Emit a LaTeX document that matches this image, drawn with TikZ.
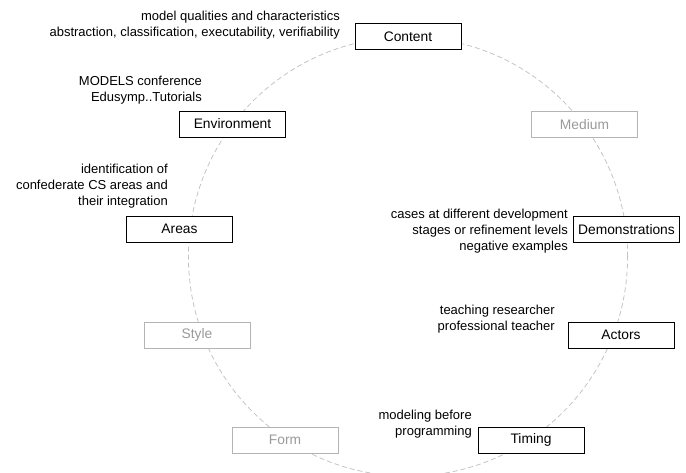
\documentclass[tikz,border=0pt]{standalone}
\usepackage{fontspec}
\setmainfont{Liberation Sans}
\definecolor{circgray}{HTML}{C4C4C4}
\definecolor{boxgray}{HTML}{B4B4B4}
\definecolor{txtgray}{HTML}{9A9A9A}
\begin{document}
\begin{tikzpicture}[x=1pt,y=-1pt,
  box/.style={draw=black, fill=white, line width=0.9pt, minimum width=106pt, minimum height=26pt, inner sep=0pt, font=\fontsize{13.8}{16}\selectfont},
  graybox/.style={box, draw=boxgray, text=txtgray},
  note/.style={align=right, anchor=east, inner sep=0pt, font=\fontsize{13}{16}\selectfont},
  ring/.style={draw=circgray, line width=0.8pt, dash pattern=on 5pt off 3pt}]
\useasboundingbox (0,0) rectangle (686,472);
\clip (0,0) rectangle (686,472);
\draw[ring] (408,256.6) circle[radius=219.6pt];
\node[box] (content) at (408,36.5) {Content};
\node[box] (environment) at (232.5,124) {Environment};
\node[graybox] (medium) at (584.5,124.5) {Medium};
\node[box] (areas) at (179.5,229) {Areas};
\node[box] (demonstrations) at (626.5,229.5) {Demonstrations};
\node[graybox] (style) at (197,335) {Style};
\node[box] (actors) at (621,335) {Actors};
\node[graybox] (form) at (285,440) {Form};
\node[box] (timing) at (531,440) {Timing};
\node[note] (ncontent) at (340,25) {model qualities and characteristics\\abstraction, classification, executability, verifiability};
\node[note] (nenv) at (202,90) {MODELS conference\\Edusymp..Tutorials};
\node[note] (nareas) at (168,186) {identification of\\confederate CS areas and\\their integration};
\node[note] (ndemo) at (568,231) {cases at different development\\stages or refinement levels\\negative examples};
\node[note] (nactors) at (555,319) {teaching researcher\\professional teacher};
\node[note] (ntiming) at (472,424) {modeling before\\programming};
\end{tikzpicture}
\end{document}
